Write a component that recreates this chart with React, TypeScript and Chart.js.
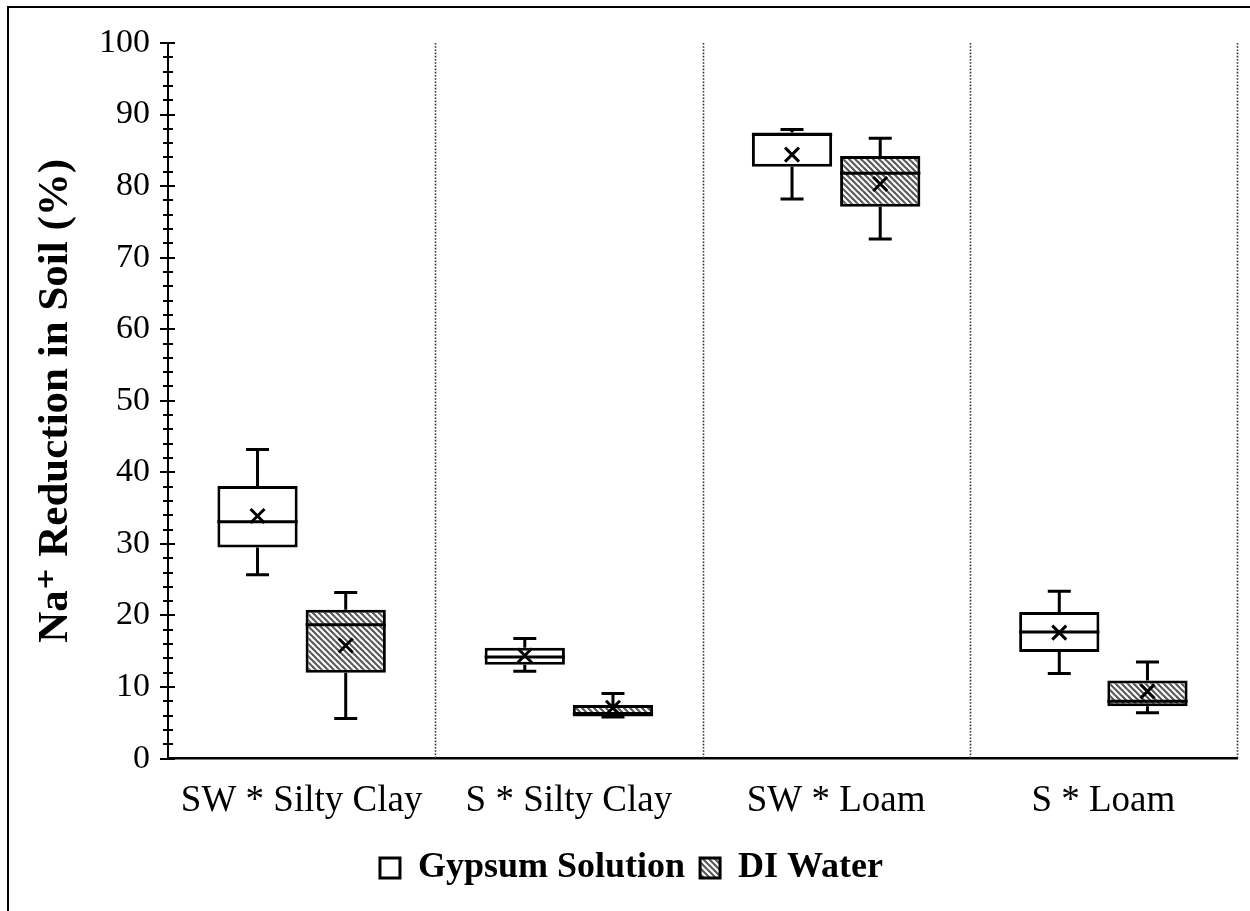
import React, { useEffect, useRef } from 'react';
import { Chart, registerables } from 'chart.js';

Chart.register(...registerables);

const categories = ['SW * Silty Clay', 'S * Silty Clay', 'SW * Loam', 'S * Loam'];
const seriesNames = ['Gypsum Solution', 'DI Water'];

const gypsumMin = [25.7, 12.2, 78.2, 11.9];
const gypsumQ1 = [29.5, 13.1, 82.7, 14.9];
const gypsumMedian = [33.1, 14.2, 87.2, 17.7];
const gypsumQ3 = [38.1, 15.5, 87.5, 20.5];
const gypsumMax = [43.2, 16.8, 87.9, 23.4];
const gypsumMean = [33.9, 14.4, 84.4, 17.6];

const diMin = [5.6, 5.8, 72.6, 6.4];
const diQ1 = [12.0, 5.9, 77.1, 7.3];
const diMedian = [18.7, 6.3, 81.8, 8.0];
const diQ3 = [20.8, 7.5, 84.2, 10.9];
const diMax = [23.2, 9.1, 86.7, 13.5];
const diMean = [15.8, 7.1, 80.3, 9.4];

const yMin = 0;
const yMax = 100;
const yMajorStep = 10;
const yMinorStep = 2;

const SERIF = "'Liberation Serif', 'Times New Roman', 'DejaVu Serif', serif";

function makeStripePattern(): CanvasPattern | string {
  const c = document.createElement('canvas');
  const s = 6;
  c.width = s;
  c.height = s;
  const g = c.getContext('2d');
  if (!g) return '#888';
  g.fillStyle = '#ffffff';
  g.fillRect(0, 0, s, s);
  g.strokeStyle = '#5a5a5a';
  g.lineWidth = 2.2;
  for (const off of [-s, 0, s]) {
    g.beginPath();
    g.moveTo(off - 1, -1);
    g.lineTo(off + s + 1, s + 1);
    g.stroke();
  }
  const p = g.createPattern(c, 'repeat');
  return p || '#888';
}

const framePlugin = {
  id: 'frame',
  beforeDraw(chart: any) {
    const { ctx, width, height } = chart;
    ctx.save();
    ctx.fillStyle = '#ffffff';
    ctx.fillRect(0, 0, width, height);
    ctx.strokeStyle = '#000';
    ctx.lineWidth = 2;
    ctx.beginPath();
    ctx.moveTo(8, height + 2);
    ctx.lineTo(8, 7);
    ctx.lineTo(width + 2, 7);
    ctx.stroke();
    ctx.restore();
  },
};

const separatorPlugin = {
  id: 'separators',
  beforeDatasetsDraw(chart: any) {
    const { ctx, chartArea } = chart;
    const xs = chart.scales.x;
    ctx.save();
    ctx.strokeStyle = '#333';
    ctx.lineWidth = 1.6;
    ctx.setLineDash([1.6, 1.6]);
    const n = categories.length;
    for (let i = 0; i < n; i++) {
      let px: number;
      if (i < n - 1) {
        px = (xs.getPixelForValue(i) + xs.getPixelForValue(i + 1)) / 2;
      } else {
        px = chartArea.right;
      }
      px = Math.round(px) + 0.5;
      ctx.beginPath();
      ctx.moveTo(px, chartArea.top);
      ctx.lineTo(px, chartArea.bottom);
      ctx.stroke();
    }
    ctx.restore();
  },
};

const yTickPlugin = {
  id: 'yTickMarks',
  afterDraw(chart: any) {
    const { ctx } = chart;
    const ys = chart.scales.y;
    const ax = chart.chartArea.left;
    ctx.save();
    ctx.strokeStyle = '#000';
    ctx.lineWidth = 2;
    for (const t of ys.ticks) {
      const v = t.value;
      const py = Math.round(ys.getPixelForValue(v));
      const major = Math.abs(v % yMajorStep) < 1e-6;
      ctx.beginPath();
      if (major) {
        ctx.moveTo(ax - 8, py);
        ctx.lineTo(ax + 7, py);
      } else {
        ctx.moveTo(ax - 5, py);
        ctx.lineTo(ax + 5, py);
      }
      ctx.stroke();
    }
    ctx.restore();
  },
};

const stats = [
  { min: gypsumMin, median: gypsumMedian, max: gypsumMax, mean: gypsumMean, q1: gypsumQ1, q3: gypsumQ3 },
  { min: diMin, median: diMedian, max: diMax, mean: diMean, q1: diQ1, q3: diQ3 },
];

const boxPlotPlugin = {
  id: 'boxExtras',
  afterDatasetsDraw(chart: any) {
    const { ctx } = chart;
    const ys = chart.scales.y;
    ctx.save();
    ctx.strokeStyle = '#000';
    ctx.lineWidth = 3;
    ctx.lineCap = 'butt';
    stats.forEach((st, d) => {
      const meta = chart.getDatasetMeta(d);
      meta.data.forEach((bar: any, i: number) => {
        const x = bar.x;
        const w = bar.width;
        const pMin = ys.getPixelForValue(st.min[i]);
        const pMax = ys.getPixelForValue(st.max[i]);
        const pQ1 = ys.getPixelForValue(st.q1[i]);
        const pQ3 = ys.getPixelForValue(st.q3[i]);
        const pMed = ys.getPixelForValue(st.median[i]);
        const pMean = ys.getPixelForValue(st.mean[i]);
        const cap = 11.5;
        ctx.beginPath();
        ctx.moveTo(x, pQ3);
        ctx.lineTo(x, pMax);
        ctx.moveTo(x - cap, pMax);
        ctx.lineTo(x + cap, pMax);
        ctx.moveTo(x, pQ1);
        ctx.lineTo(x, pMin);
        ctx.moveTo(x - cap, pMin);
        ctx.lineTo(x + cap, pMin);
        ctx.moveTo(x - w / 2, pMed);
        ctx.lineTo(x + w / 2, pMed);
        ctx.stroke();
        const m = 7;
        ctx.beginPath();
        ctx.moveTo(x - m, pMean - m);
        ctx.lineTo(x + m, pMean + m);
        ctx.moveTo(x + m, pMean - m);
        ctx.lineTo(x - m, pMean + m);
        ctx.stroke();
      });
    });
    ctx.restore();
  },
};

export default function App() {
  const canvasRef = useRef<HTMLCanvasElement | null>(null);

  useEffect(() => {
    const canvas = canvasRef.current;
    if (!canvas) return;
    const stripes = makeStripePattern();
    const chart = new Chart(canvas, {
      type: 'bar',
      data: {
        labels: categories,
        datasets: [
          {
            label: seriesNames[0],
            data: categories.map((_, i) => [gypsumQ1[i], gypsumQ3[i]]) as any,
            backgroundColor: '#ffffff',
            borderColor: '#000000',
            borderWidth: 3,
            borderSkipped: false,
            categoryPercentage: 0.66,
            barPercentage: 0.91,
          },
          {
            label: seriesNames[1],
            data: categories.map((_, i) => [diQ1[i], diQ3[i]]) as any,
            backgroundColor: stripes as any,
            borderColor: '#000000',
            borderWidth: 3,
            borderSkipped: false,
            categoryPercentage: 0.66,
            barPercentage: 0.91,
          },
        ],
      },
      options: {
        responsive: false,
        animation: false,
        devicePixelRatio: 1,
        layout: { padding: { left: 26, top: 43, right: 13, bottom: 15 } },
        scales: {
          x: {
            grid: { display: false },
            border: { display: true, color: '#000', width: 2.5 },
            ticks: {
              color: '#000',
              font: { family: SERIF, size: 37 },
              padding: 12,
              maxRotation: 0,
              autoSkip: false,
            },
          },
          y: {
            min: yMin,
            max: yMax,
            grid: { display: false, drawTicks: false },
            border: { display: true, color: '#000', width: 2 },
            afterFit: (scale: any) => {
              scale.width = 142;
            },
            ticks: {
              stepSize: yMinorStep,
              autoSkip: false,
              color: '#000',
              padding: 18,
              font: { family: SERIF, size: 34 },
              callback: (v: any) => (Number(v) % yMajorStep === 0 ? String(v) : ''),
            },
            title: {
              display: true,
              text: 'Na⁺ Reduction in Soil (%)',
              color: '#000',
              font: { family: SERIF, size: 43, weight: 'bold' },
              padding: { top: 4, bottom: 0 },
            },
          },
        },
        plugins: {
          legend: {
            display: true,
            position: 'bottom',
            labels: {
              color: '#000',
              font: { family: SERIF, size: 36, weight: 'bold' },
              boxWidth: 20,
              boxHeight: 20,
              padding: 15,
            },
          },
          tooltip: { enabled: false },
        },
      },
      plugins: [framePlugin, separatorPlugin, boxPlotPlugin, yTickPlugin],
    });
    return () => chart.destroy();
  }, []);

  return (
    <div style={{ position: 'absolute', left: 0, top: 0, width: 1250, height: 911, background: '#fff' }}>
      <canvas ref={canvasRef} width={1250} height={911} style={{ display: 'block' }} />
    </div>
  );
}
